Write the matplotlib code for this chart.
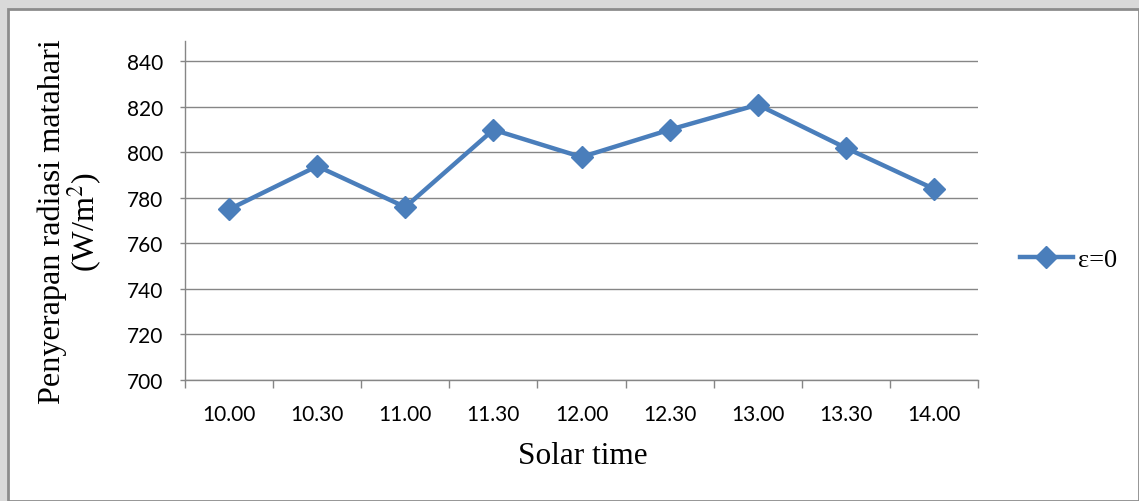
import matplotlib
matplotlib.use("Agg")
import matplotlib.pyplot as plt
from matplotlib.patches import Rectangle

times = ["10.00", "10.30", "11.00", "11.30", "12.00", "12.30", "13.00", "13.30", "14.00"]
radiation = [775, 794, 776, 810, 798, 810, 821, 802, 784]
yticks = [700, 720, 740, 760, 780, 800, 820, 840]
series_label = "ε=0"

W, H = 1139, 502
fig = plt.figure(figsize=(W / 100, H / 100), dpi=100)
fig.patch.set_facecolor("#d9d9d9")
fig.patches.append(Rectangle((8 / W, 0), 1 - 8 / W, 1 - 10 / H, transform=fig.transFigure,
                             facecolor="white", edgecolor="#8c8c8c", linewidth=2, zorder=-5))

ax = fig.add_axes([185 / W, 1 - 381 / H, (978 - 185) / W, (381 - 42) / H])
ax.set_facecolor("none")
x = list(range(len(times)))
color = "#4a7ebb"
ax.plot(x, radiation, color=color, lw=3.2, marker="D", markersize=11, label=series_label, zorder=3)

ax.set_xlim(-0.5, len(times) - 0.5)
ax.set_ylim(700, 849)
ax.set_yticks(yticks)
ax.set_xticks(x)
ax.set_xticklabels(times)
ax.set_xticks([i - 0.5 for i in range(len(times) + 1)], minor=True)
ax.tick_params(axis="x", which="major", length=0, pad=17)
ax.tick_params(axis="x", which="minor", length=5.5, color="#868686", width=1, direction="out")
ax.tick_params(axis="y", length=3.6, color="#868686", width=1, direction="out", pad=12)
for lbl in ax.get_xticklabels() + ax.get_yticklabels():
    lbl.set_fontfamily("Lato")
    lbl.set_fontsize(15)

ax.yaxis.grid(True, color="#868686", lw=1)
ax.set_axisbelow(True)
for s in ["top", "right"]:
    ax.spines[s].set_visible(False)
for s in ["left", "bottom"]:
    ax.spines[s].set_color("#868686")
    ax.spines[s].set_linewidth(1)

fig.text(583 / W, 1 - 457 / H, "Solar time", ha="center", va="center",
         family="Liberation Serif", fontsize=22.5)
fig.text(71 / W, 1 - 222 / H, "Penyerapan radiasi matahari\n(W/m$^2$)", ha="center", va="center",
         rotation=90, family="Liberation Serif", fontsize=23.2, linespacing=0.95,
         math_fontfamily="stix")

leg = fig.legend(loc="center left", bbox_to_anchor=(1020 / W, 1 - 260 / H), frameon=False,
                 prop={"family": "Liberation Serif", "size": 19}, handlelength=2.0,
                 handletextpad=0.2, borderpad=0, borderaxespad=0)

fig.savefig("out.png", dpi=100, facecolor=fig.get_facecolor())
